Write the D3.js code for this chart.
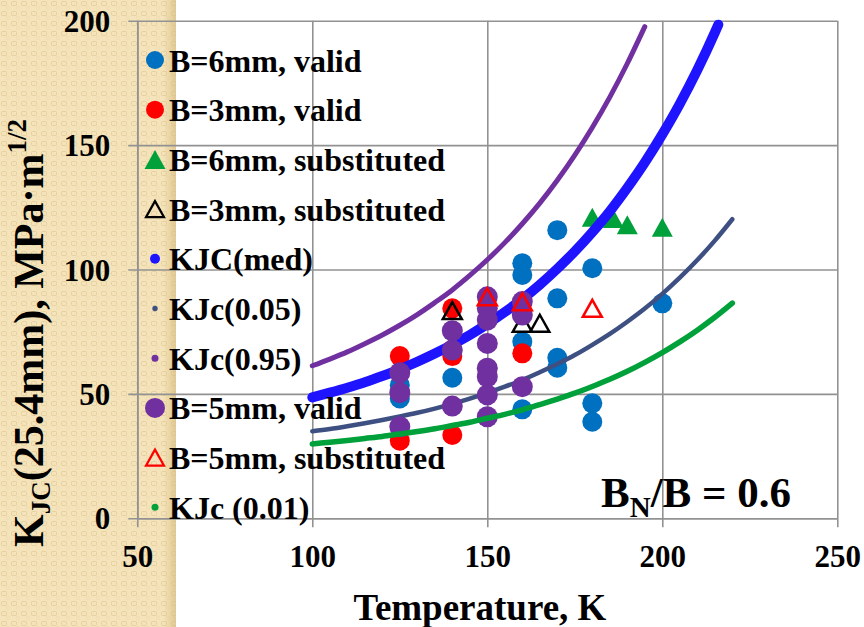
<!DOCTYPE html>
<html><head><meta charset="utf-8">
<script src="https://cdn.jsdelivr.net/npm/d3@7"></script>
<style>
html,body{margin:0;padding:0;background:#fff;}
svg{display:block;}
</style></head>
<body>
<svg id="chart" width="864" height="627"></svg>
<script>
// ---------- data ----------
const xTicks = [50, 100, 150, 200, 250];
const yTicks = [0, 50, 100, 150, 200];

const b6ValidT = [125, 125, 140, 160, 160, 160, 160, 170, 170, 170, 170, 180, 180, 180, 200];
const b6ValidK = [53.5, 48.2, 56.5, 102.5, 97.8, 71.0, 43.8, 115.8, 88.4, 64.5, 60.5, 100.5, 46.2, 38.8, 86.4];

const b3ValidT = [125, 125, 140, 140, 140, 160];
const b3ValidK = [65.2, 31.2, 84.4, 65.2, 33.5, 66.3];

const b6SubT = [180, 186, 190, 200];
const b6SubK = [121.0, 120.5, 118.0, 117.0];

const b3SubT = [140, 160, 165];
const b3SubK = [83.5, 78.4, 78.4];

const b5ValidT = [125, 125, 125, 140, 140, 140, 150, 150, 150, 150, 150, 150, 150, 150, 160, 160, 160];
const b5ValidK = [58.5, 50.5, 36.8, 75.4, 67.6, 45.1, 89.0, 84.4, 79.7, 70.3, 60.3, 56.9, 49.6, 40.8, 87.1, 81.7, 52.9];

const b5SubT = [150, 160, 180];
const b5SubK = [89.0, 87.0, 84.4];

const medT = [100, 105, 110, 115, 120, 125, 130, 135, 140, 145, 150, 155, 160, 165, 170, 175, 180, 185, 190, 195, 200, 205, 210, 215, 216];
const medK = [48.6, 50.5, 52.5, 54.7, 57.2, 59.9, 62.9, 66.2, 69.8, 73.7, 78.1, 82.9, 88.1, 93.9, 100.3, 107.3, 115.0, 123.4, 132.8, 143.0, 154.3, 166.6, 180.2, 195.2, 198.4];

const p95T = [100, 105, 110, 115, 120, 125, 130, 135, 140, 145, 150, 155, 160, 165, 170, 175, 180, 185, 190, 195];
const p95K = [61.3, 64.0, 66.9, 70.2, 73.7, 77.6, 81.9, 86.7, 91.8, 97.6, 103.9, 110.8, 118.4, 126.7, 135.9, 146.0, 157.1, 169.3, 182.8, 197.6];

const p05T = [100, 105, 110, 115, 120, 125, 130, 135, 140, 145, 150, 155, 160, 165, 170, 175, 180, 185, 190, 195, 200, 205, 210, 215, 220];
const p05K = [35.0, 35.9, 37.0, 38.2, 39.5, 40.9, 42.4, 44.1, 46.0, 48.1, 50.4, 52.9, 55.6, 58.7, 62.0, 65.6, 69.7, 74.1, 79.0, 84.3, 90.2, 96.7, 103.8, 111.6, 120.2];

const p01T = [100, 105, 110, 115, 120, 125, 130, 135, 140, 145, 150, 155, 160, 165, 170, 175, 180, 185, 190, 195, 200, 205, 210, 215, 220];
const p01K = [29.9, 30.6, 31.3, 32.1, 32.9, 33.9, 34.9, 36.0, 37.3, 38.6, 40.2, 41.8, 43.6, 45.7, 47.9, 50.3, 53.0, 55.9, 59.1, 62.7, 66.6, 70.9, 75.6, 80.8, 86.5];

const legendLabels = ["B=6mm, valid", "B=3mm, valid", "B=6mm, substituted", "B=3mm, substituted",
  "KJC(med)", "KJc(0.05)", "KJc(0.95)", "B=5mm, valid", "B=5mm, substituted", "KJc (0.01)"];

// ---------- setup ----------
const FONT = "'Liberation Serif'";
const svg = d3.select("#chart");
const W = 864, H = 627;
const x = d3.scaleLinear().domain([50, 250]).range([137.3, 837.3]);
const y = d3.scaleLinear().domain([0, 200]).range([518.3, 20.7]);
const zip = (a, b) => a.map((v, i) => [v, b[i]]);
const txt = sel => sel.style("font-family", FONT).style("font-weight", "bold").attr("fill", "#000");

const C = {
  blue: "#0070c0", red: "#ff0000", green: "#00a13a", purple: "#7030a0",
  med: "#1f14ff", p05: "#3e4f82", p95: "#7030a0", p01: "#00a13a", grid: "#929292"
};

// ---------- textured strip ----------
const defs = svg.append("defs");
const pat = defs.append("pattern").attr("id", "tex").attr("patternUnits", "userSpaceOnUse")
  .attr("width", 10).attr("height", 10);
pat.append("rect").attr("width", 10).attr("height", 10).attr("fill", "#f5e4bb");
pat.append("rect").attr("x", 1.5).attr("y", 1.5).attr("width", 5).attr("height", 4).attr("rx", 1)
  .attr("fill", "none").attr("stroke", "#e6d09c").attr("stroke-width", 1);
pat.append("rect").attr("x", 6.5).attr("y", 6.5).attr("width", 3).attr("height", 3).attr("rx", 0.8)
  .attr("fill", "none").attr("stroke", "#ecd9aa").attr("stroke-width", 0.8);
const grad = defs.append("linearGradient").attr("id", "edge").attr("x1", 0).attr("x2", 1);
grad.append("stop").attr("offset", 0).attr("stop-color", "#d9bf86").attr("stop-opacity", 0);
grad.append("stop").attr("offset", 1).attr("stop-color", "#d9bf86").attr("stop-opacity", 0.75);
svg.append("rect").attr("x", 0).attr("y", 0).attr("width", 176).attr("height", H).attr("fill", "url(#tex)");
svg.append("rect").attr("x", 163).attr("y", 0).attr("width", 13).attr("height", H).attr("fill", "url(#edge)");

// ---------- axes / grid ----------
const fontTick = 31;
const gy = svg.append("g").attr("transform", `translate(${x(50)},0)`)
  .call(d3.axisLeft(y).tickValues(yTicks).tickSizeInner(-(x(250) - x(50))).tickSizeOuter(0).tickPadding(27));
gy.selectAll(".tick line").attr("x1", -9).attr("stroke", C.grid).attr("stroke-width", 1.6);
gy.select(".domain").attr("stroke", C.grid).attr("stroke-width", 1.6);
gy.selectAll(".tick text").attr("font-size", fontTick).attr("dy", "0.34em").call(txt);

const gx = svg.append("g").attr("transform", `translate(0,${y(0)})`)
  .call(d3.axisBottom(x).tickValues(xTicks).tickSizeInner(-(y(0) - y(200))).tickSizeOuter(0).tickPadding(29));
gx.selectAll(".tick line").attr("y1", 9).attr("stroke", C.grid).attr("stroke-width", 1.6);
gx.select(".domain").attr("stroke", C.grid).attr("stroke-width", 1.6);
gx.selectAll(".tick text").attr("font-size", fontTick).attr("y", 49).attr("dy", 0).call(txt);

// ---------- symbols ----------
function tri(w, h) { return `M0,${-h / 2}L${w / 2},${h / 2}L${-w / 2},${h / 2}Z`; }
const line = d3.line().x(d => x(d[0])).y(d => y(d[1])).curve(d3.curveMonotoneX);
const plot = svg.append("g");

function circles(T, K, r, fill) {
  plot.append("g").selectAll("circle").data(zip(T, K)).join("circle")
    .attr("cx", d => x(d[0])).attr("cy", d => y(d[1])).attr("r", r).attr("fill", fill);
}
function triangles(T, K, fill, stroke) {
  plot.append("g").selectAll("path").data(zip(T, K)).join("path")
    .attr("transform", d => `translate(${x(d[0])},${y(d[1])})`)
    .attr("d", fill === "none" ? tri(19, 17) : tri(21, 19))
    .attr("fill", fill).attr("stroke", stroke).attr("stroke-width", fill === "none" ? 2.5 : 0)
    .attr("stroke-linejoin", "miter");
}
function curve(T, K, color, width) {
  plot.append("path").datum(zip(T, K)).attr("d", line).attr("fill", "none")
    .attr("stroke", color).attr("stroke-width", width).attr("stroke-linecap", "round");
}

// series in drawing order
circles(b6ValidT, b6ValidK, 10, C.blue);
circles(b3ValidT, b3ValidK, 10, C.red);
triangles(b6SubT, b6SubK, C.green, "none");
triangles(b3SubT, b3SubK, "none", "#000");
curve(medT, medK, C.med, 10);
curve(p05T, p05K, C.p05, 4.5);
curve(p95T, p95K, C.p95, 5);
circles(b5ValidT, b5ValidK, 10.5, C.purple);
triangles(b5SubT, b5SubK, "none", C.red);
curve(p01T, p01K, C.p01, 5.5);

// ---------- legend ----------
const lg = svg.append("g");
const legendSym = [
  g => g.append("circle").attr("r", 9).attr("fill", C.blue),
  g => g.append("circle").attr("r", 9).attr("fill", C.red),
  g => g.append("path").attr("d", tri(21, 19)).attr("fill", C.green),
  g => g.append("path").attr("d", tri(18, 16)).attr("fill", "none").attr("stroke", "#000").attr("stroke-width", 2.2),
  g => g.append("circle").attr("r", 5).attr("fill", C.med),
  g => g.append("circle").attr("r", 2.7).attr("fill", C.p05),
  g => g.append("circle").attr("r", 3.5).attr("fill", C.p95),
  g => g.append("circle").attr("r", 10).attr("fill", C.purple),
  g => g.append("path").attr("d", tri(18, 16)).attr("fill", "none").attr("stroke", C.red).attr("stroke-width", 2.2),
  g => g.append("circle").attr("r", 3.5).attr("fill", C.p01)
];
legendLabels.forEach((lab, i) => {
  const cy = 60 + i * 49.7;
  const g = lg.append("g").attr("transform", `translate(155,${cy})`);
  legendSym[i](g);
  lg.append("text").attr("x", 169).attr("y", cy + 11.5).attr("font-size", 32).text(lab).call(txt);
});

// ---------- annotation ----------
const ann = svg.append("text").attr("x", 601).attr("y", 507).attr("font-size", 43).call(txt);
ann.append("tspan").text("B");
ann.append("tspan").attr("font-size", 29).attr("dy", 10).text("N");
ann.append("tspan").attr("dy", -10).text("/B = 0.6");

// ---------- axis titles ----------
svg.append("text").attr("x", 480).attr("y", 620).attr("text-anchor", "middle")
  .attr("font-size", 37).text("Temperature, K").call(txt);

const yt = svg.append("text").attr("transform", "translate(43,333) rotate(-90)")
  .attr("text-anchor", "middle").attr("font-size", 42).call(txt);
yt.append("tspan").text("K");
yt.append("tspan").attr("font-size", 27).attr("dy", 7).text("JC");
yt.append("tspan").attr("dy", -7).text("(25.4mm), MPa·m");
yt.append("tspan").attr("font-size", 27).attr("dy", -17).text("1/2");
</script>
</body></html>
